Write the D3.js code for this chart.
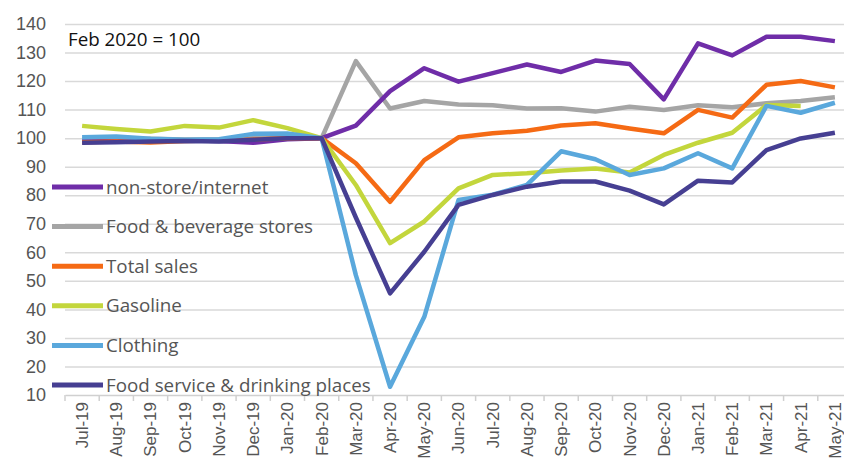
<!DOCTYPE html>
<html lang="en">
<head>
  <meta charset="UTF-8">
  <title>US retail sales by category</title>
  <script src="https://d3js.org/d3.v7.min.js"></script>
  <style>
    body { margin: 0; background: #fff; }
    svg { font-family: "Open Sans", "Liberation Sans", Arial, sans-serif; }
    .grid line { stroke: #d9d9d9; stroke-width: 1.5; }
    .grid .domain { display: none; }
    .yaxis text { fill: #555; font-size: 18px; }
    .xaxis text { fill: #555; font-size: 17px; }
    .xaxis line, .xaxis .domain { stroke: #d0d0d0; stroke-width: 1.5; }
    .series { fill: none; stroke-width: 4.5; stroke-linejoin: round; }
    .legend text { fill: #555; font-size: 18.8px; }
  </style>
</head>
<body>
  <svg width="844" height="470"></svg>
  <script>
    const months = ["Jul-19","Aug-19","Sep-19","Oct-19","Nov-19","Dec-19","Jan-20","Feb-20",
                    "Mar-20","Apr-20","May-20","Jun-20","Jul-20","Aug-20","Sep-20","Oct-20",
                    "Nov-20","Dec-20","Jan-21","Feb-21","Mar-21","Apr-21","May-21"];
    const yTicks = [10,20,30,40,50,60,70,80,90,100,110,120,130,140];

    const foodBev     = [99.5,99.5,99.8,99.5,99.5,100,100.5,100,127,110.4,113,111.8,111.5,110.4,110.5,109.3,111,109.9,111.5,110.8,112.2,113,114.3];
    const nonStore    = [98.8,99,99,99.3,99,98.4,99.6,100,104.4,116.5,124.5,119.8,122.8,125.8,123.2,127.2,126,113.6,133.2,129,135.5,135.5,134];
    const totalSales  = [98.6,98.8,98.5,99,99.3,99.5,100,100,91.2,77.7,92.3,100.3,101.7,102.6,104.4,105.2,103.4,101.7,109.9,107.2,118.7,120,117.8];
    const gasoline    = [104.3,103.2,102.3,104.3,103.7,106.3,103.5,100,83.6,63.2,70.8,82.4,87.1,87.7,88.7,89.4,88,94.1,98.4,101.9,111.6,111.3,null];
    const clothing    = [100.3,100.6,99.8,99.4,99.6,101.5,101.6,100,52,12.9,37.4,78.3,80.2,83.6,95.4,92.6,87.1,89.4,94.7,89.4,111.3,108.9,112.4];
    const foodService = [98.4,98.6,98.8,99,98.8,99.4,100,100,72.2,45.6,60.2,76.6,80.1,83,84.8,84.8,81.6,76.8,85.1,84.5,95.8,99.9,101.9];

    const series = [
      { name: "Food & beverage stores", values: foodBev, color: "#a5a5a5" },
      { name: "non-store/internet", values: nonStore, color: "#6f2da8" },
      { name: "Total sales", values: totalSales, color: "#f56a14" },
      { name: "Gasoline", values: gasoline, color: "#c3d63c" },
      { name: "Clothing", values: clothing, color: "#5aa8dc" },
      { name: "Food service & drinking places", values: foodService, color: "#463f92" }
    ];
    const legendOrder = ["non-store/internet", "Food & beverage stores", "Total sales",
                         "Gasoline", "Clothing", "Food service & drinking places"];

    const svg = d3.select("svg");
    const plotLeft = 65, plotRight = 852, plotTop = 24, plotBottom = 395;

    const x = d3.scaleBand().domain(months).range([plotLeft, plotRight]);
    const y = d3.scaleLinear().domain([10, 140]).range([plotBottom, plotTop]);

    // gridlines
    svg.append("g")
       .attr("class", "grid")
       .attr("transform", `translate(${plotLeft},0)`)
       .call(d3.axisLeft(y).tickValues(yTicks.slice(1)).tickSize(-(plotRight - plotLeft)).tickFormat(""));

    // y labels
    const yAxis = svg.append("g")
       .attr("class", "yaxis")
       .attr("transform", `translate(${plotLeft},0)`)
       .call(d3.axisLeft(y).tickValues(yTicks).tickSize(0).tickPadding(19));
    yAxis.select(".domain").remove();

    // x axis with ticks on band edges
    const xAxis = svg.append("g")
       .attr("class", "xaxis")
       .attr("transform", `translate(0,${plotBottom})`)
       .call(d3.axisBottom(x).tickSize(0).tickSizeOuter(0));
    xAxis.selectAll(".tick text")
       .attr("transform", "rotate(-90)")
       .attr("text-anchor", "end")
       .attr("x", -7)
       .attr("y", 0)
       .attr("dy", "0.35em");
    xAxis.selectAll(".edge")
       .data(months)
       .enter().append("line")
       .attr("class", "edge")
       .attr("x1", d => x(d)).attr("x2", d => x(d))
       .attr("y1", 0).attr("y2", 6);

    const line = d3.line()
       .defined(d => d.v != null)
       .x(d => x(d.m) + x.bandwidth() / 2)
       .y(d => y(d.v));

    svg.selectAll(".series")
       .data(series)
       .enter().append("path")
       .attr("class", "series")
       .attr("stroke", d => d.color)
       .attr("d", d => line(months.map((m, i) => ({ m: m, v: d.values[i] }))));

    // note
    svg.append("text")
       .attr("x", 68).attr("y", 46)
       .attr("font-size", 18.8).attr("fill", "#111")
       .text("Feb 2020 = 100");

    // legend
    const legend = svg.append("g").attr("class", "legend");
    const ly = d3.scalePoint().domain(legendOrder).range([187, 385]);
    const items = legend.selectAll("g")
       .data(legendOrder.map(n => series.find(s => s.name === n)))
       .enter().append("g")
       .attr("transform", d => `translate(0,${ly(d.name)})`);
    items.append("line")
       .attr("x1", 52).attr("x2", 103)
       .attr("stroke", d => d.color)
       .attr("stroke-width", 5);
    items.append("text")
       .attr("x", 106).attr("dy", "0.35em")
       .text(d => d.name);
  </script>
</body>
</html>
